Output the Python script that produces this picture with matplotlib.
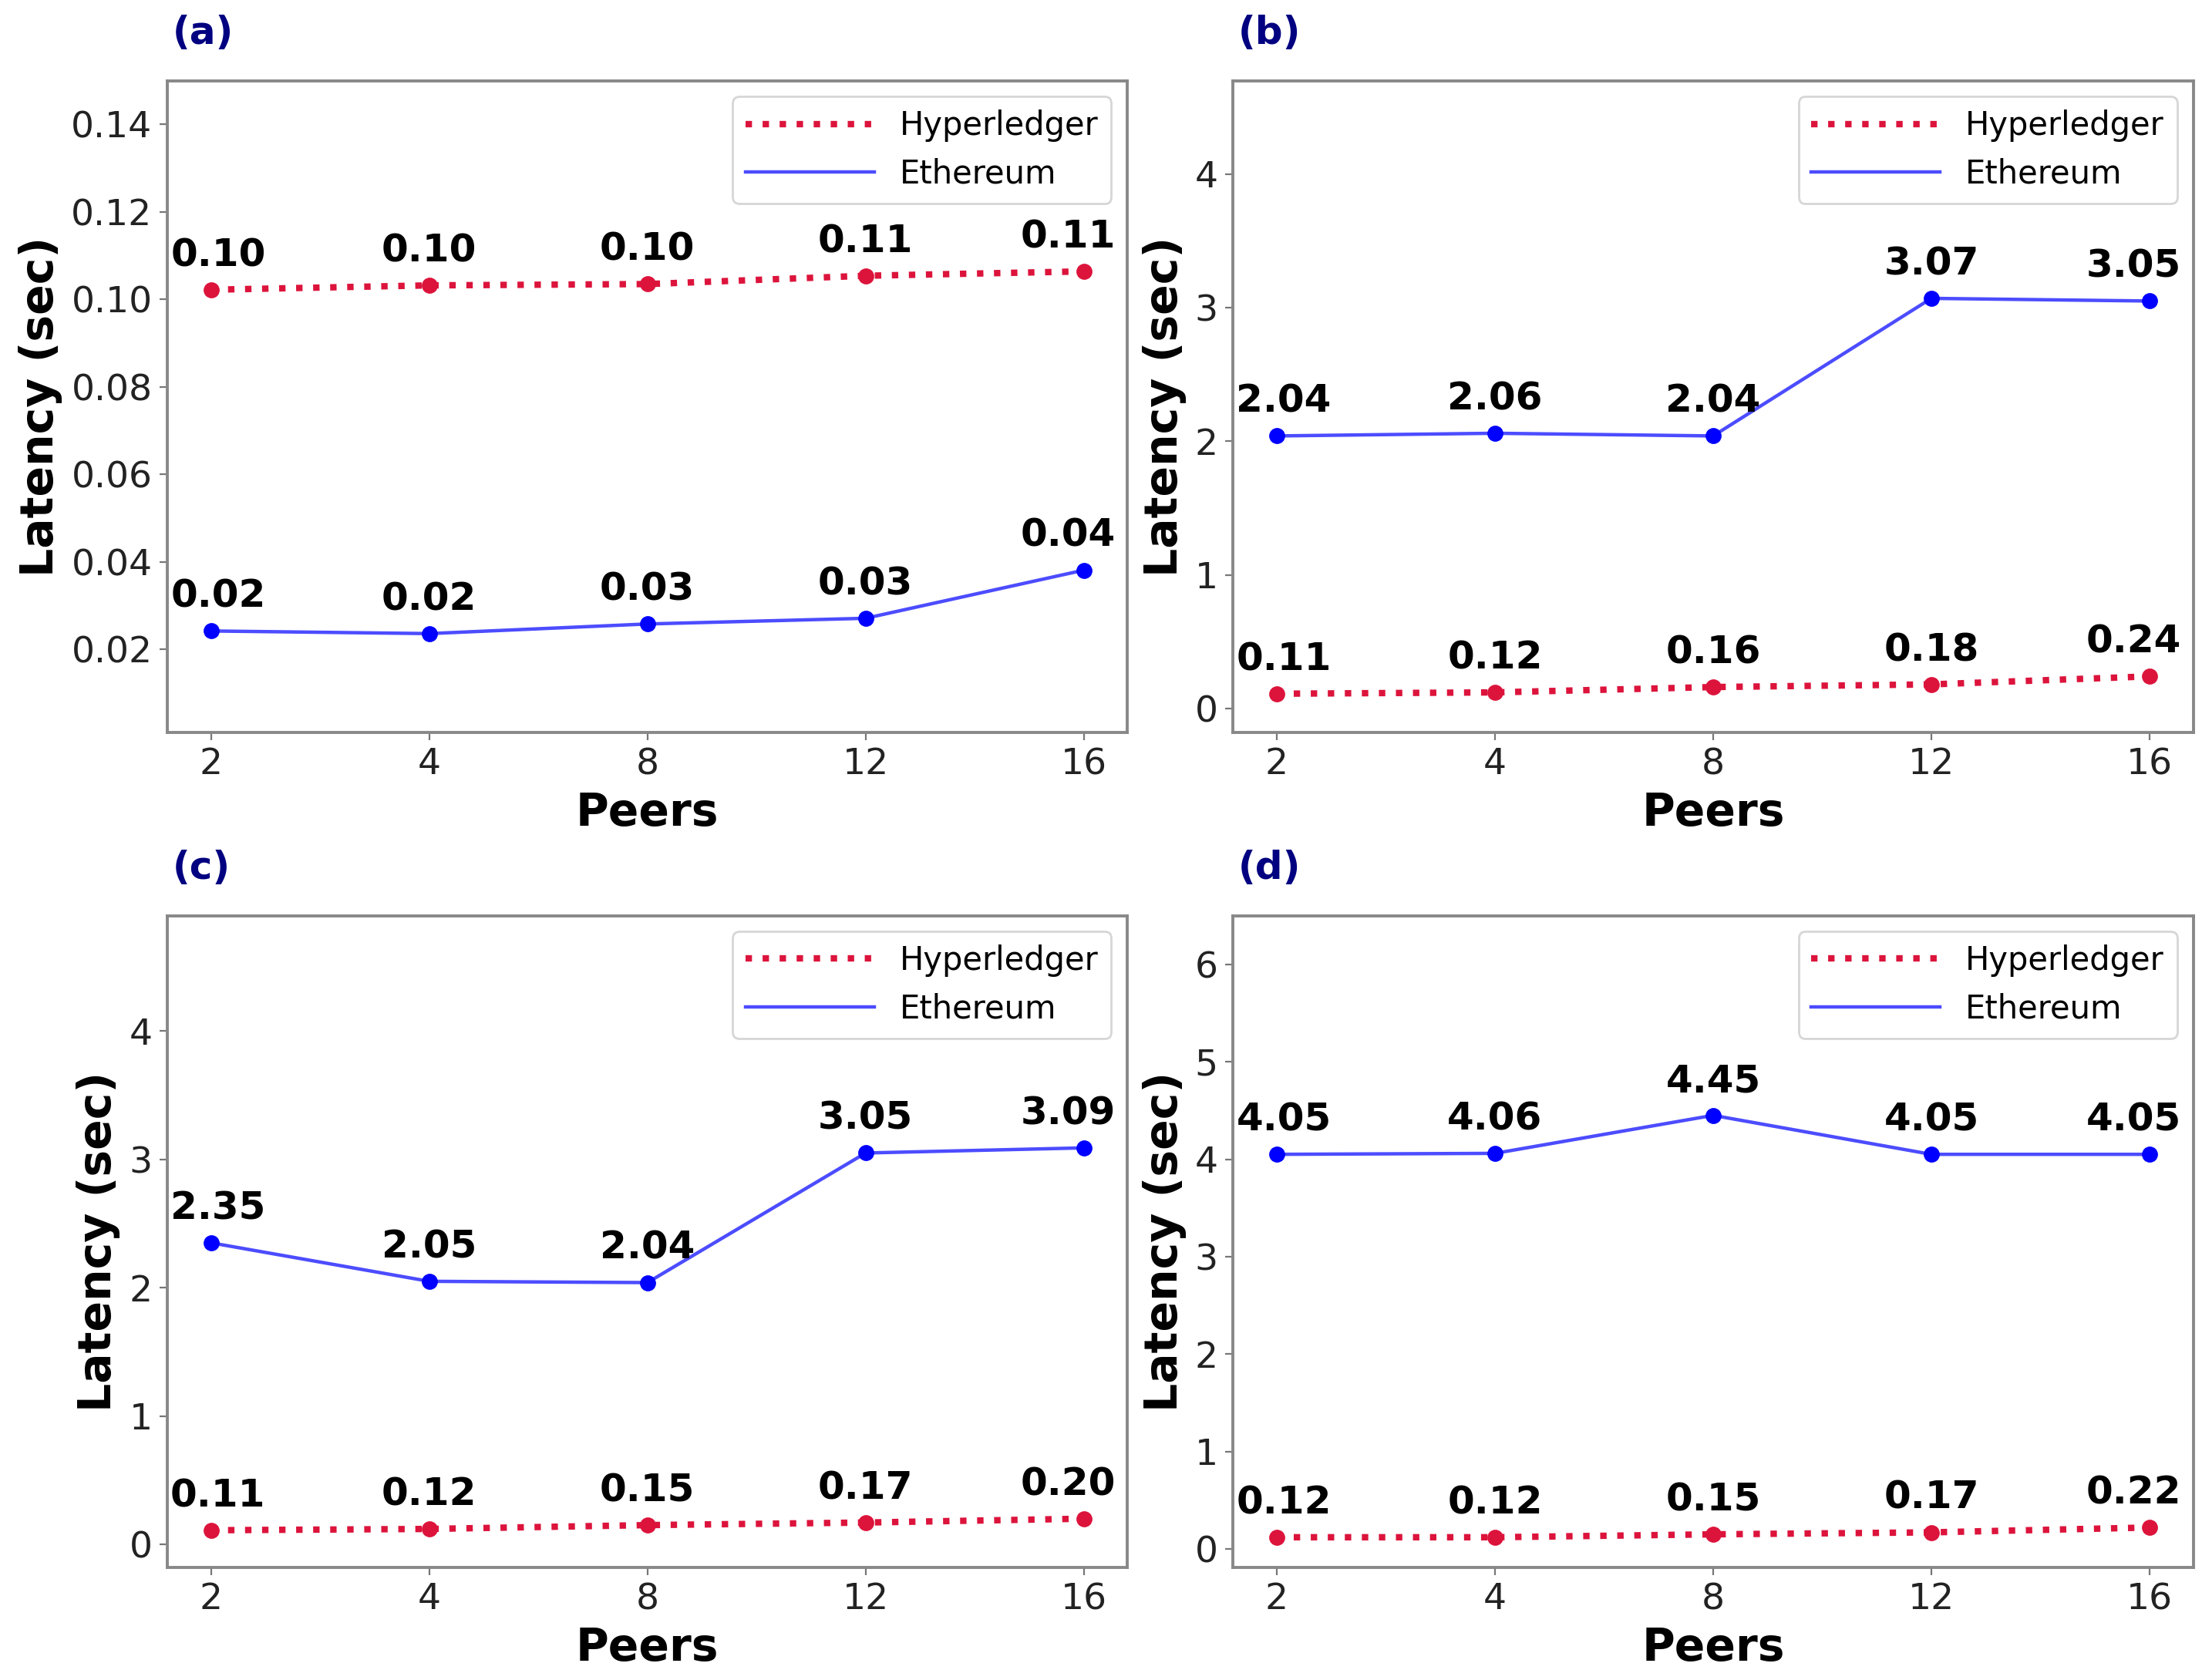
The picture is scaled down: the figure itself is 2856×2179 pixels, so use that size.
import numpy as np
import matplotlib.pyplot as plt

peers = ["2", "4", "8", "12", "16"]
panels = ["(a)", "(b)", "(c)", "(d)"]

# latency in seconds
hyper_a = [0.1022, 0.1032, 0.1035, 0.1054, 0.1064]
eth_a = [0.0242, 0.0236, 0.0258, 0.0271, 0.0381]
hyper_b = [0.11, 0.12, 0.16, 0.18, 0.24]
eth_b = [2.04, 2.06, 2.04, 3.07, 3.05]
hyper_c = [0.11, 0.12, 0.15, 0.17, 0.20]
eth_c = [2.35, 2.05, 2.04, 3.05, 3.09]
hyper_d = [0.12, 0.12, 0.15, 0.17, 0.22]
eth_d = [4.05, 4.06, 4.45, 4.05, 4.05]

hyper = [hyper_a, hyper_b, hyper_c, hyper_d]
eth = [eth_a, eth_b, eth_c, eth_d]
ylims = [(0.001, 0.15), (-0.18, 4.70), (-0.18, 4.90), (-0.19, 6.5)]
yticks = [np.arange(0.02, 0.141, 0.02), np.arange(0, 5), np.arange(0, 5), np.arange(0, 7)]
yfmt = ["{:.2f}", "{:.0f}", "{:.0f}", "{:.0f}"]

# labels at the ends are nudged inwards so they stay inside the box
label_dx = [3.3, 0, 0, 0, -7.5]

fig, axs = plt.subplots(2, 2, figsize=(14.28, 10.895), dpi=200)
fig.subplots_adjust(left=0.076, right=0.996, bottom=0.067, top=0.952,
                    wspace=0.11, hspace=0.281)

x = np.arange(len(peers))

for i, ax in enumerate(axs.flat):
    ax.plot(x, hyper[i], ":", color="crimson", lw=3, label="Hyperledger")
    ax.scatter(x, hyper[i], color="crimson", s=42, zorder=3)
    ax.plot(x, eth[i], "-", color="blue", lw=1.6, alpha=0.7, label="Ethereum")
    ax.scatter(x, eth[i], color="blue", s=42, zorder=3)

    for series in (hyper[i], eth[i]):
        for xi, yv, dx in zip(x, series, label_dx):
            ax.annotate(f"{yv:.2f}", (xi, yv), xytext=(dx, 11), textcoords="offset points",
                        ha="center", va="baseline", fontsize=18, fontweight="bold")

    ax.set_xticks(x)
    ax.set_xticklabels(peers)
    ax.set_ylim(*ylims[i])
    ax.set_yticks(yticks[i])
    ax.set_yticklabels([yfmt[i].format(t) for t in yticks[i]])
    ax.tick_params(labelsize=17, colors="#777777", labelcolor="#222222")
    for sp in ax.spines.values():
        sp.set_color("#888888")
        sp.set_linewidth(1.4)

    ax.set_xlabel("Peers", fontsize=21, fontweight="bold")
    ax.set_ylabel("Latency (sec)", fontsize=21, fontweight="bold")
    ax.legend(loc="upper right", fontsize=15, handlelength=4)
    ax.text(0.005, 1.045, panels[i], transform=ax.transAxes, fontsize=18,
            fontweight="bold", color="navy", va="bottom", ha="left")

plt.savefig("out.png")
